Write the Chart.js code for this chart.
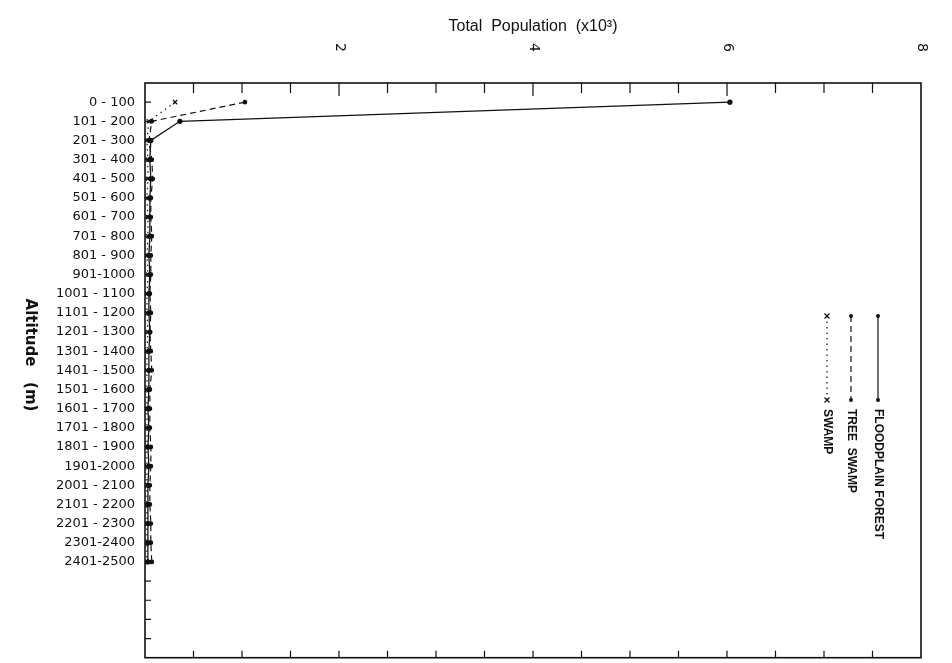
<!DOCTYPE html>
<html>
<head>
<meta charset="utf-8">
<title>Total Population by Altitude</title>
<script src="https://cdn.jsdelivr.net/npm/chart.js@4.4.1/dist/chart.umd.min.js"></script>
<style>
  html, body { margin: 0; padding: 0; background: #fff; }
  #wrap { width: 952px; height: 663px; }
</style>
</head>
<body>
<div id="wrap"><canvas id="chart" width="952" height="663"></canvas></div>
<script>
// altitude bands (m), top to bottom
const altitudeBands = [
    '0 - 100', '101 - 200', '201 - 300', '301 - 400', '401 - 500',
    '501 - 600', '601 - 700', '701 - 800', '801 - 900', '901-1000',
    '1001 - 1100', '1101 - 1200', '1201 - 1300', '1301 - 1400', '1401 - 1500',
    '1501 - 1600', '1601 - 1700', '1701 - 1800', '1801 - 1900', '1901-2000',
    '2001 - 2100', '2101 - 2200', '2201 - 2300', '2301-2400', '2401-2500'
];

// total population (x10^3)
const floodplainForest = [6.03, 0.36, 0.06, 0.05, 0.06, 0.05, 0.05, 0.05, 0.04, 0.05,
    0.04, 0.04, 0.05, 0.04, 0.04, 0.04, 0.03, 0.04, 0.03, 0.04, 0.03, 0.03, 0.03, 0.03, 0.03];
const treeSwamp = [1.03, 0.07, 0.04, 0.07, 0.08, 0.06, 0.06, 0.07, 0.06, 0.06,
    0.05, 0.06, 0.05, 0.06, 0.07, 0.05, 0.05, 0.05, 0.06, 0.06, 0.05, 0.05, 0.06, 0.06, 0.07];
const swamp = [0.31, 0.04, 0.02, 0.03, 0.03, 0.02, 0.03, 0.03, 0.02, 0.03,
    0.02, 0.02, 0.03, 0.02, 0.02, 0.02, 0.02, 0.02, 0.02, 0.02, 0.02, 0.02, 0.02, 0.02, 0.02];

const populationLabels = [2, 4, 6, 8];
const seriesNames = ['FLOODPLAIN FOREST', 'TREE  SWAMP', 'SWAMP'];

const ink = '#111';

function toPoints(values) {
    return values.map((v, i) => ({ x: v, y: i }));
}

// frame with inward ticks, rotated y title and rotated legend
const framePlugin = {
    id: 'frame',
    afterDraw(chart) {
        const { ctx, chartArea: a, scales: { x, y } } = chart;
        ctx.save();
        ctx.strokeStyle = ink;
        ctx.setLineDash([]);
        ctx.lineWidth = 1.6;
        ctx.strokeRect(a.left, a.top, a.right - a.left, a.bottom - a.top);

        ctx.lineWidth = 1.2;
        ctx.beginPath();
        for (let v = 0.5; v < 8; v += 0.5) {
            const px = x.getPixelForValue(v);
            ctx.moveTo(px, a.top);
            ctx.lineTo(px, a.top + (v % 2 === 0 ? 13 : 10));
            ctx.moveTo(px, a.bottom);
            ctx.lineTo(px, a.bottom - 7);
        }
        for (let i = 0; i < 29; i++) {
            const py = y.getPixelForValue(i);
            ctx.moveTo(a.left, py);
            ctx.lineTo(a.left + 6, py);
        }
        ctx.stroke();

        // y axis title, reading top to bottom
        ctx.fillStyle = ink;
        ctx.font = 'bold 15px "DejaVu Sans"';
        ctx.textAlign = 'center';
        ctx.textBaseline = 'middle';
        ctx.save();
        ctx.translate(30, 355);
        ctx.rotate(Math.PI / 2);
        ctx.fillText('Altitude   (m)', 0, 0);
        ctx.restore();

        // legend
        const legendX = [878, 851, 827];
        const lineTop = 316, lineBottom = 400;
        chart.data.datasets.forEach((ds, i) => {
            const lx = legendX[i];
            ctx.beginPath();
            ctx.lineWidth = 1.2;
            ctx.setLineDash(ds.borderDash || []);
            ctx.moveTo(lx, lineTop);
            ctx.lineTo(lx, lineBottom);
            ctx.stroke();
            ctx.setLineDash([]);
            [lineTop, lineBottom].forEach(py => {
                if (ds.pointStyle === 'crossRot') {
                    ctx.beginPath();
                    ctx.moveTo(lx - 2.5, py - 2.5); ctx.lineTo(lx + 2.5, py + 2.5);
                    ctx.moveTo(lx + 2.5, py - 2.5); ctx.lineTo(lx - 2.5, py + 2.5);
                    ctx.stroke();
                } else {
                    ctx.beginPath();
                    ctx.arc(lx, py, 2, 0, Math.PI * 2);
                    ctx.fill();
                }
            });
            ctx.save();
            ctx.translate(lx, lineBottom + 9);
            ctx.rotate(Math.PI / 2);
            ctx.font = 'bold 12px "Liberation Sans"';
            ctx.textAlign = 'left';
            ctx.textBaseline = 'middle';
            ctx.fillText(seriesNames[i], 0, 0);
            ctx.restore();
        });
        ctx.restore();
    }
};

new Chart(document.getElementById('chart'), {
    type: 'line',
    data: {
        datasets: [
            {
                label: seriesNames[0],
                data: toPoints(floodplainForest),
                borderColor: ink,
                backgroundColor: ink,
                borderWidth: 1.3,
                pointStyle: 'circle',
                pointRadius: 2,
                tension: 0
            },
            {
                label: seriesNames[1],
                data: toPoints(treeSwamp),
                borderColor: ink,
                backgroundColor: ink,
                borderWidth: 1.2,
                borderDash: [6, 4],
                pointStyle: 'circle',
                pointRadius: 1.8,
                tension: 0
            },
            {
                label: seriesNames[2],
                data: toPoints(swamp),
                borderColor: ink,
                backgroundColor: ink,
                borderWidth: 1.2,
                borderDash: [1.5, 4],
                pointStyle: 'crossRot',
                pointRadius: 3,
                pointBorderWidth: 1.2,
                tension: 0
            }
        ]
    },
    options: {
        responsive: false,
        animation: false,
        layout: { padding: { top: 0, right: 31, bottom: 4, left: 0 } },
        plugins: {
            legend: { display: false },
            tooltip: { enabled: false }
        },
        scales: {
            x: {
                type: 'linear',
                position: 'top',
                min: 0,
                max: 8,
                grid: { display: false, drawTicks: false },
                border: { display: false },
                ticks: {
                    stepSize: 0.5,
                    autoSkip: false,
                    minRotation: -90,
                    maxRotation: -90,
                    padding: 40,
                    labelOffset: -16,
                    color: ink,
                    font: { family: 'DejaVu Sans', size: 14 },
                    callback: v => populationLabels.includes(v) ? String(v) : ''
                },
                title: {
                    display: true,
                    text: 'Total  Population  (x10³)',
                    color: ink,
                    font: { family: 'Liberation Sans', size: 16 },
                    padding: { top: 17, bottom: 0 }
                },
                afterFit: scale => {
                    scale.height = 83;
                    scale.paddingLeft = 0;
                    scale.paddingRight = 0;
                }
            },
            y: {
                type: 'linear',
                reverse: true,
                min: -1,
                max: 29,
                grid: { display: false, drawTicks: false },
                border: { display: false },
                ticks: {
                    stepSize: 1,
                    autoSkip: false,
                    padding: 10,
                    color: ink,
                    font: { family: 'DejaVu Sans', size: 13 },
                    callback: v => altitudeBands[v] || ''
                },
                afterFit: scale => {
                    scale.width = 145;
                    scale.paddingTop = 0;
                    scale.paddingBottom = 0;
                }
            }
        }
    },
    plugins: [framePlugin]
});
</script>
</body>
</html>
